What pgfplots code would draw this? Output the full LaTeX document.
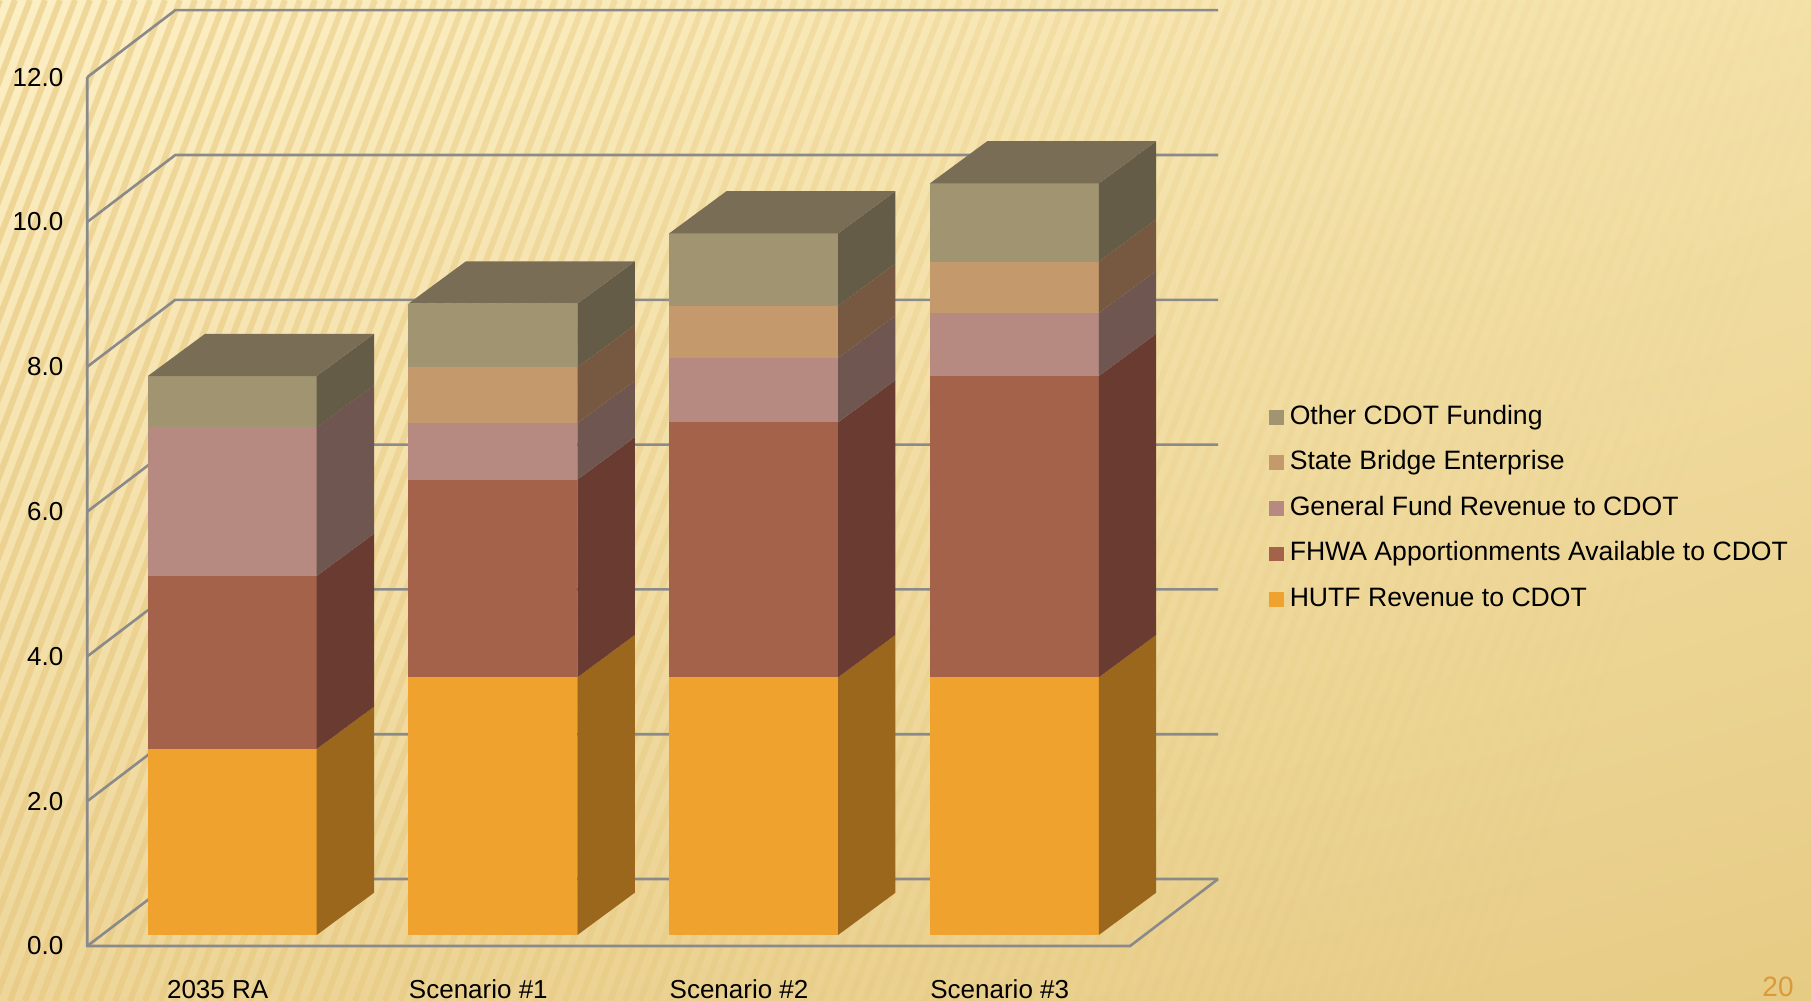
\documentclass[border=0pt]{standalone}
\usepackage{fontspec}
\setmainfont{Liberation Sans}
\usepackage{pgfplots}
\usepackage{pgfplotstable}
\usetikzlibrary{shadings}
\pgfplotsset{compat=1.18}

\definecolor{hutfF}{HTML}{F0A22E}\definecolor{hutfS}{HTML}{9A671C}
\definecolor{fhwaF}{HTML}{A5624B}\definecolor{fhwaS}{HTML}{6A3C31}
\definecolor{gfF}{HTML}{B68A80}\definecolor{gfS}{HTML}{6F5650}
\definecolor{sbeF}{HTML}{C49A6C}\definecolor{sbeS}{HTML}{765940}
\definecolor{othF}{HTML}{A19571}\definecolor{othS}{HTML}{645C47}
\definecolor{topC}{HTML}{7A6D56}
\definecolor{gridC}{HTML}{8A8A8A}
\definecolor{bgUL}{HTML}{FCEFC4}\definecolor{bgUR}{HTML}{F4E1A8}
\definecolor{bgLL}{HTML}{EED69A}\definecolor{bgLR}{HTML}{E6CB84}
\definecolor{stripeC}{HTML}{E2BF6E}
\definecolor{pageC}{HTML}{DB9A38}

% segment values (billions), one row per category
\pgfplotstableread{
idx hutf fhwa gf sbe other
0 2.57 2.39 2.05 0.00 0.71
1 3.56 2.73 0.78 0.77 0.88
2 3.56 3.52 0.89 0.72 1.00
3 3.56 4.16 0.87 0.71 1.08
}\funding

% one stacked segment: front face and right side face
\newcommand\seg[5]{%
  \pgfmathsetmacro\xa{#1-0.268}%
  \pgfmathsetmacro\xb{#1+0.380}%
  \pgfmathsetmacro\xc{#1+0.600}%
  \pgfmathsetmacro\ya{#2+0.152}%
  \pgfmathsetmacro\yb{#3+0.152}%
  \pgfmathsetmacro\yc{#2+0.736}%
  \pgfmathsetmacro\yd{#3+0.736}%
  \edef\tmp{\noexpand\addplot[fill=#4,draw=none,forget plot] coordinates {(\xa,\ya) (\xb,\ya) (\xb,\yb) (\xa,\yb)} -- cycle;%
  \noexpand\addplot[fill=#5,draw=none,forget plot] coordinates {(\xb,\ya) (\xc,\yc) (\xc,\yd) (\xb,\yb)} -- cycle;}%
  \tmp}
% top face of a bar
\newcommand\topface[2]{%
  \pgfmathsetmacro\xa{#1-0.268}%
  \pgfmathsetmacro\xb{#1+0.380}%
  \pgfmathsetmacro\xc{#1+0.600}%
  \pgfmathsetmacro\xd{#1-0.048}%
  \pgfmathsetmacro\ya{#2+0.152}%
  \pgfmathsetmacro\yc{#2+0.736}%
  \edef\tmp{\noexpand\addplot[fill=topC,draw=none,forget plot] coordinates {(\xa,\ya) (\xb,\ya) (\xc,\yc) (\xd,\yc)} -- cycle;}%
  \tmp}

\pgfplotsset{sq/.style={legend image code/.code={\fill[#1] (0pt,-3.45pt) rectangle (6.9pt,3.45pt);}}}

\begin{document}
\begin{tikzpicture}
% background
\shade[upper left=bgUL, upper right=bgUR, lower left=bgLL, lower right=bgLR] (0,0) rectangle (905.5pt,500.5pt);
\begin{scope}
\clip (0,0) rectangle (905.5pt,500.5pt);
\foreach \k in {0,...,150}{
  \pgfmathsetmacro\op{max(0,0.5-0.5*\k/125)}
  \draw[line width=3pt, draw=stripeC, draw opacity=\op] ({\k*7.5pt-190pt},0) -- ++(190pt,500.5pt);
}
\end{scope}

\begin{axis}[
  at={(43.65pt,27.5pt)}, anchor=south west,
  scale only axis, width=565.4pt, height=467.9pt,
  xmin=-0.5, xmax=3.8376, ymin=0, ymax=12.925,
  clip=false,
  axis line style={draw=none}, tick style={draw=none},
  xtick={0,1,2,3},
  xticklabels={2035 RA, Scenario \#1, Scenario \#2, Scenario \#3},
  ytick={0,2,4,6,8,10,12},
  /pgf/number format/.cd, fixed, fixed zerofill, precision=1, assume math mode=true, /tikz/.cd,
  tick label style={font=\fontsize{13}{15}\selectfont},
  xticklabel style={anchor=north, yshift=-13.5pt},
  yticklabel style={anchor=east, xshift=-8.5pt},
  legend style={at={(axis description cs:1.045,0.579)}, anchor=north west,
    draw=none, fill=none, inner sep=0pt,
    font=\fontsize{13.3}{15}\selectfont,
    nodes={inner sep=0pt, text height=9.8pt, text depth=2.8pt},
    row sep=10.2pt,
    /tikz/every odd column/.append style={column sep=2.9pt}},
  legend cell align=left,
]
\addlegendimage{sq=othF}\addlegendentry{Other CDOT Funding}
\addlegendimage{sq=sbeF}\addlegendentry{State Bridge Enterprise}
\addlegendimage{sq=gfF}\addlegendentry{General Fund Revenue to CDOT}
\addlegendimage{sq=fhwaF}\addlegendentry{FHWA Apportionments Available to CDOT}
\addlegendimage{sq=hutfF}\addlegendentry{HUTF Revenue to CDOT}

% walls and floor
\addplot[gridC, line width=1.3pt, forget plot] coordinates {(-0.5,0) (-0.1624,0.925) (3.8376,0.925)};
\addplot[gridC, line width=1.3pt, forget plot] coordinates {(-0.5,2) (-0.1624,2.925) (3.8376,2.925)};
\addplot[gridC, line width=1.3pt, forget plot] coordinates {(-0.5,4) (-0.1624,4.925) (3.8376,4.925)};
\addplot[gridC, line width=1.3pt, forget plot] coordinates {(-0.5,6) (-0.1624,6.925) (3.8376,6.925)};
\addplot[gridC, line width=1.3pt, forget plot] coordinates {(-0.5,8) (-0.1624,8.925) (3.8376,8.925)};
\addplot[gridC, line width=1.3pt, forget plot] coordinates {(-0.5,10) (-0.1624,10.925) (3.8376,10.925)};
\addplot[gridC, line width=1.3pt, forget plot] coordinates {(-0.5,12) (-0.1624,12.925) (3.8376,12.925)};
\addplot[gridC, line width=1.3pt, forget plot] coordinates {(-0.5,12) (-0.5,0) (3.5,0) (3.8376,0.925)};

% bars
\pgfplotsinvokeforeach{0,...,3}{%
  \pgfplotstablegetelem{#1}{hutf}\of\funding \pgfmathsetmacro\cA{\pgfplotsretval}%
  \pgfplotstablegetelem{#1}{fhwa}\of\funding \pgfmathsetmacro\cB{\cA+\pgfplotsretval}%
  \pgfplotstablegetelem{#1}{gf}\of\funding \pgfmathsetmacro\cC{\cB+\pgfplotsretval}%
  \pgfplotstablegetelem{#1}{sbe}\of\funding \pgfmathsetmacro\cD{\cC+\pgfplotsretval}%
  \pgfplotstablegetelem{#1}{other}\of\funding \pgfmathsetmacro\cE{\cD+\pgfplotsretval}%
  \seg{#1}{0}{\cA}{hutfF}{hutfS}%
  \seg{#1}{\cA}{\cB}{fhwaF}{fhwaS}%
  \seg{#1}{\cB}{\cC}{gfF}{gfS}%
  \seg{#1}{\cC}{\cD}{sbeF}{sbeS}%
  \seg{#1}{\cD}{\cE}{othF}{othS}%
  \topface{#1}{\cE}%
}
\end{axis}

\node[text=pageC, font=\fontsize{14}{16}\selectfont, anchor=base] at (889pt,2.4pt) {20};
\pgfresetboundingbox
\useasboundingbox (0,0) rectangle (905.5pt,500.5pt);
\end{tikzpicture}
\end{document}
